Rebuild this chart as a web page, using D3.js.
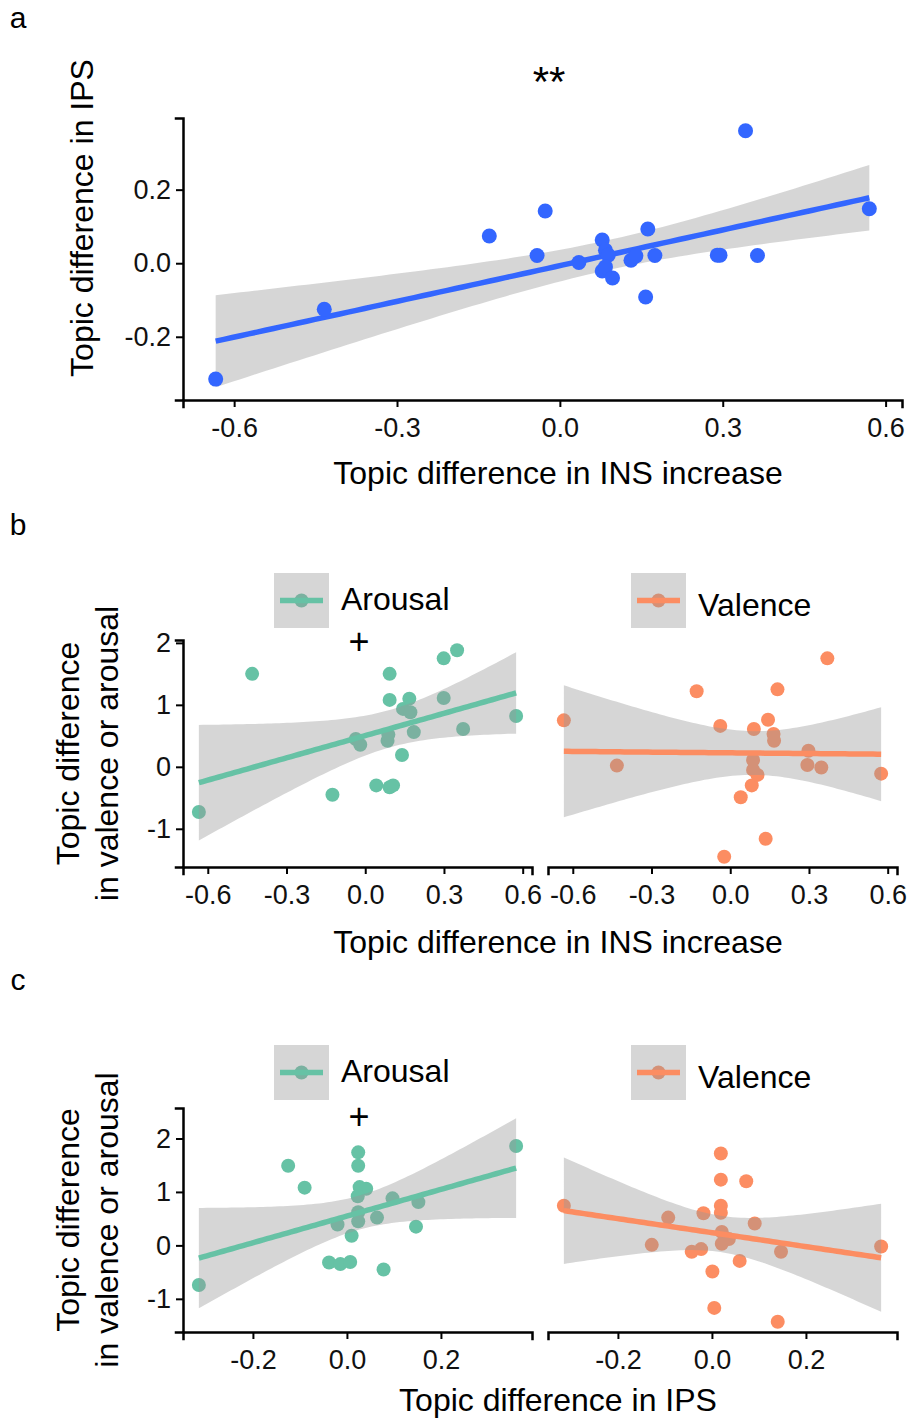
<!DOCTYPE html>
<html>
<head>
<meta charset="utf-8">
<script src="https://cdnjs.cloudflare.com/ajax/libs/d3/7.9.0/d3.min.js"></script>
<style>
  body { margin: 0; background: #fff; }
  svg { display: block; }
</style>
</head>
<body>
<svg id="chart" width="912" height="1418"></svg>
<script>
// ---- data ----
// panel a: INS increase vs IPS
const insA = [-0.634, -0.434, -0.130, -0.027, -0.042, 0.035, 0.078, 0.084, 0.089, 0.078, 0.084,
              0.097, 0.131, 0.140, 0.162, 0.175, 0.158, 0.290, 0.295, 0.364, 0.342, 0.570];
const ipsA = [-0.315, -0.125, 0.074, 0.142, 0.021, 0.002, 0.063, 0.035, 0.022, -0.021, -0.010,
              -0.040, 0.008, 0.020, 0.093, 0.021, -0.092, 0.022, 0.022, 0.021, 0.360, 0.148];

// panel b: INS increase vs arousal / valence
const insArousalB = [-0.634, -0.431, -0.125, -0.036, -0.019, 0.042, 0.093, 0.093, 0.085, 0.088, 0.093,
                     0.106, 0.140, 0.144, 0.168, 0.172, 0.185, 0.299, 0.299, 0.350, 0.373, 0.575];
const arousalB = [-0.73, 1.50, -0.45, 0.45, 0.355, -0.30, 1.50, 1.08, 0.42, 0.52, -0.33,
                  -0.30, 0.19, 0.935, 1.10, 0.88, 0.56, 1.75, 1.11, 1.88, 0.61, 0.82];
const insValenceB = [-0.634, -0.432, -0.128, -0.038, -0.023, 0.040, 0.082, 0.087, 0.087, 0.104, 0.090,
                     0.135, 0.144, 0.165, 0.167, 0.180, 0.298, 0.294, 0.347, 0.370, 0.575];
const valenceB = [0.75, 0.02, 1.22, 0.66, -1.45, -0.49, -0.30, 0.11, -0.05, -0.13, 0.61,
                  -1.16, 0.76, 0.53, 0.42, 1.25, 0.26, 0.03, -0.01, 1.75, -0.11];

// panel c: IPS vs arousal / valence
const ipsArousalC = [-0.315, -0.125, -0.090, -0.038, -0.020, -0.014, 0.007, 0.010, 0.024, 0.024, 0.027,
                     0.041, 0.023, 0.024, 0.024, 0.064, 0.078, 0.097, 0.147, 0.152, 0.360];
const arousalC = [-0.74, 1.49, 1.08, -0.32, 0.39, -0.35, -0.31, 0.18, 1.74, 1.49, 1.09,
                  1.06, 0.92, 0.62, 0.45, 0.52, -0.45, 0.88, 0.35, 0.81, 1.86];
const ipsValenceC = [-0.315, -0.128, -0.093, -0.043, -0.023, -0.018, 0.001, 0.005, 0.019, 0.019, 0.019,
                     0.019, 0.021, 0.036, 0.021, 0.059, 0.073, 0.091, 0.147, 0.140, 0.360];
const valenceC = [0.74, 0.01, 0.52, -0.12, -0.07, 0.60, -0.49, -1.17, 1.72, 1.23, 0.74,
                  0.61, 0.25, 0.12, 0.03, -0.29, 1.20, 0.41, -0.12, -1.43, -0.02];

const ticksIns = [-0.6, -0.3, 0, 0.3, 0.6];
const ticksIps = [-0.2, 0, 0.2];
const ticksIpsY = [-0.2, 0, 0.2];
const ticksEmo = [-1, 0, 1, 2];

const FONT = '"Liberation Sans", Arial, Helvetica, sans-serif';
const BLUE = '#3366FF', GREEN = '#66C2A5', ORANGE = '#FC8D62';

const svg = d3.select('#chart').attr('font-family', FONT);

// ---- lm fit with 95% CI, like geom_smooth(method = "lm") ----
function tQuant(df) {
  const z = 1.959964;
  const z3 = z ** 3, z5 = z ** 5, z7 = z ** 7;
  return z + (z3 + z) / (4 * df) + (5 * z5 + 16 * z3 + 3 * z) / (96 * df * df)
    + (3 * z7 + 19 * z5 + 17 * z3 - 15 * z) / (384 * df ** 3);
}

function lmFit(xs, ys) {
  const n = xs.length;
  const mx = d3.mean(xs), my = d3.mean(ys);
  let sxx = 0, sxy = 0;
  xs.forEach((x, i) => { sxx += (x - mx) ** 2; sxy += (x - mx) * (ys[i] - my); });
  const b = sxy / sxx, a = my - b * mx;
  let rss = 0;
  xs.forEach((x, i) => { rss += (ys[i] - a - b * x) ** 2; });
  const s = Math.sqrt(rss / (n - 2));
  const t = tQuant(n - 2);
  const [lo, hi] = d3.extent(xs);
  const pts = d3.range(80).map(k => {
    const x = lo + (hi - lo) * k / 79;
    const y = a + b * x;
    const se = s * Math.sqrt(1 / n + (x - mx) ** 2 / sxx);
    return { x, y, lo: y - t * se, hi: y + t * se };
  });
  return pts;
}

function expand([a, b]) { const d = (b - a) * 0.05; return [a - d, b + d]; }

function styleAxis(sel) {
  sel.attr('font-family', FONT).attr('font-size', 27);
  sel.select('.domain').attr('stroke', '#000').attr('stroke-width', 2.5).attr('stroke-linecap', 'square');
  sel.selectAll('.tick line').attr('stroke', '#000').attr('stroke-width', 2);
  sel.selectAll('.tick text').attr('fill', '#111');
}

function drawSeries(g, x, y, xs, ys, color, fit, pointsOnTop, r) {
  const area = d3.area().x(d => x(d.x)).y0(d => y(d.lo)).y1(d => y(d.hi));
  const line = d3.line().x(d => x(d.x)).y(d => y(d.y));
  const pts = xs.map((v, i) => ({ x: v, y: ys[i] }));
  const drawPts = () => g.append('g').selectAll('circle').data(pts).join('circle')
    .attr('cx', d => x(d.x)).attr('cy', d => y(d.y)).attr('r', r).attr('fill', color);
  if (!pointsOnTop) drawPts();
  g.append('path').datum(fit).attr('d', area).attr('fill', '#999999').attr('fill-opacity', 0.4);
  g.append('path').datum(fit).attr('d', line).attr('fill', 'none')
    .attr('stroke', color).attr('stroke-width', 5.5);
  if (pointsOnTop) drawPts();
}

function legendKey(x, y, color, label, base) {
  const g = svg.append('g');
  g.append('circle').attr('cx', x + 27.5).attr('cy', y + 27.5).attr('r', 7).attr('fill', color);
  g.append('rect').attr('x', x).attr('y', y).attr('width', 55).attr('height', 55)
    .attr('fill', '#999999').attr('fill-opacity', 0.4);
  g.append('line').attr('x1', x + 6).attr('x2', x + 49).attr('y1', y + 27.5).attr('y2', y + 27.5)
    .attr('stroke', color).attr('stroke-width', 5.5);
  g.append('text').attr('x', x + 67).attr('y', base).attr('font-size', 32).attr('fill', '#000').text(label);
}

function label(x, y, txt, size, anchor, rotate) {
  const t = svg.append('text').attr('font-size', size).attr('fill', '#000')
    .attr('text-anchor', anchor || 'middle').text(txt);
  if (rotate) t.attr('transform', `translate(${x},${y}) rotate(-90)`);
  else t.attr('x', x).attr('y', y);
  return t;
}

const fmt1 = d => d.toFixed(1);
const fmt0 = d => String(d);

// ---- panel a ----
(function () {
  const box = { x0: 183, x1: 902, y0: 118, y1: 400 };
  const fit = lmFit(insA, ipsA);
  const x = d3.scaleLinear().domain(expand(d3.extent(insA))).range([box.x0, box.x1]);
  const yExt = d3.extent([...ipsA, ...fit.map(d => d.lo), ...fit.map(d => d.hi)]);
  const y = d3.scaleLinear().domain(expand(yExt)).range([box.y1, box.y0]);
  const g = svg.append('g');
  drawSeries(g, x, y, insA, ipsA, BLUE, fit, true, 7.5);
  styleAxis(svg.append('g').attr('transform', `translate(0,${box.y1})`)
    .call(d3.axisBottom(x).tickValues(ticksIns).tickFormat(fmt1).tickSizeOuter(0).tickSize(7).tickPadding(11)));
  styleAxis(svg.append('g').attr('transform', `translate(${box.x0},0)`)
    .call(d3.axisLeft(y).tickValues(ticksIpsY).tickFormat(fmt1).tickSizeOuter(0).tickSize(7).tickPadding(5)));
  label(18, 28, 'a', 30);
  label(549, 96, '**', 42);
  label(558, 484, 'Topic difference in INS increase', 32);
  label(93, 218, 'Topic difference in IPS', 32, 'middle', true);
})();

// ---- panels b and c: two facets sharing y ----
function facetPanel(cfg) {
  const facets = [{ x0: 183, x1: 532 }, { x0: 548, x1: 897 }];
  const fitA = lmFit(cfg.xa, cfg.ya);
  const fitV = lmFit(cfg.xv, cfg.yv);
  const x = facets.map(f => d3.scaleLinear()
    .domain(expand(d3.extent([...cfg.xa, ...cfg.xv]))).range([f.x0, f.x1]));
  const yExt = d3.extent([...cfg.ya, ...cfg.yv,
    ...fitA.map(d => d.lo), ...fitA.map(d => d.hi), ...fitV.map(d => d.lo), ...fitV.map(d => d.hi)]);
  const y = d3.scaleLinear().domain(expand(yExt)).range([cfg.y1, cfg.y0]);

  drawSeries(svg.append('g'), x[0], y, cfg.xa, cfg.ya, GREEN, fitA, false, 7);
  drawSeries(svg.append('g'), x[1], y, cfg.xv, cfg.yv, ORANGE, fitV, false, 7);

  x.forEach(sc => styleAxis(svg.append('g').attr('transform', `translate(0,${cfg.y1})`)
    .call(d3.axisBottom(sc).tickValues(cfg.xticks).tickFormat(fmt1).tickSizeOuter(0).tickSize(7).tickPadding(11))));
  styleAxis(svg.append('g').attr('transform', `translate(${facets[0].x0},0)`)
    .call(d3.axisLeft(y).tickValues(ticksEmo).tickFormat(fmt0).tickSizeOuter(0).tickSize(7).tickPadding(5)));

  legendKey(274, cfg.legY, GREEN, 'Arousal', cfg.legY + 37);
  legendKey(631, cfg.legY, ORANGE, 'Valence', cfg.legY + 43);
  label(359, cfg.plusY, '+', 36);

  label(18, cfg.letterY, cfg.letter, 30);
  label(558, cfg.titleY, cfg.xtitle, 32);
  const cy = (cfg.y0 + cfg.y1) / 2;
  label(79, cy, 'Topic difference', 32, 'middle', true);
  label(118, cy, 'in valence or arousal', 32, 'middle', true);
}

facetPanel({
  xa: insArousalB, ya: arousalB, xv: insValenceB, yv: valenceB,
  xticks: ticksIns, y0: 640, y1: 867, legY: 573, plusY: 654,
  letter: 'b', letterY: 535, titleY: 953, xtitle: 'Topic difference in INS increase'
});

facetPanel({
  xa: ipsArousalC, ya: arousalC, xv: ipsValenceC, yv: valenceC,
  xticks: ticksIps, y0: 1108, y1: 1332, legY: 1045, plusY: 1129,
  letter: 'c', letterY: 990, titleY: 1411, xtitle: 'Topic difference in IPS'
});
</script>
</body>
</html>
